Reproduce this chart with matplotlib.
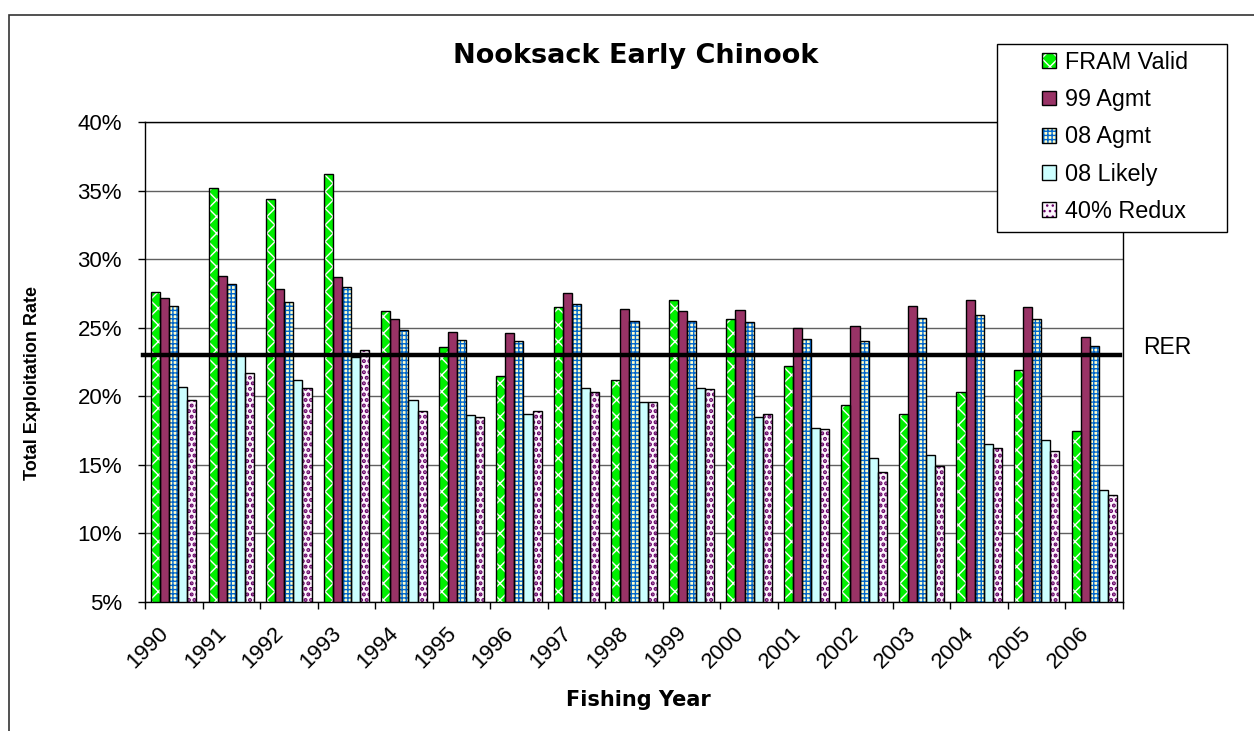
import matplotlib
matplotlib.use("Agg")
import matplotlib.pyplot as plt
import numpy as np
from matplotlib.patches import Rectangle
from matplotlib.transforms import ScaledTranslation

years = ["1990", "1991", "1992", "1993", "1994", "1995", "1996", "1997", "1998",
         "1999", "2000", "2001", "2002", "2003", "2004", "2005", "2006"]
fram_valid = [27.6, 35.2, 34.4, 36.2, 26.2, 23.6, 21.5, 26.5, 21.2, 27.0, 25.6, 22.2, 19.4, 18.7, 20.3, 21.9, 17.5]
agmt_99 = [27.2, 28.8, 27.8, 28.7, 25.6, 24.7, 24.6, 27.5, 26.4, 26.2, 26.3, 25.0, 25.1, 26.6, 27.0, 26.5, 24.3]
agmt_08 = [26.6, 28.2, 26.9, 28.0, 24.8, 24.1, 24.0, 26.7, 25.5, 25.5, 25.4, 24.2, 24.0, 25.7, 25.9, 25.6, 23.7]
likely_08 = [20.7, 23.1, 21.2, 22.9, 19.7, 18.6, 18.7, 20.6, 19.6, 20.6, 18.5, 17.7, 15.5, 15.7, 16.5, 16.8, 13.2]
redux_40 = [19.7, 21.7, 20.6, 23.4, 18.9, 18.5, 18.9, 20.3, 19.6, 20.5, 18.7, 17.6, 14.5, 14.9, 16.2, 16.0, 12.8]
rer = 23.0

series_names = ["FRAM Valid", "99 Agmt", "08 Agmt", "08 Likely", "40% Redux"]
series_values = [fram_valid, agmt_99, agmt_08, likely_08, redux_40]

# face colour, hatch colour, hatch pattern, hatch width
styles = [
    ("#00f000", "white", "xx", 1.0),
    ("#993366", "#993366", None, 1.0),
    ("#ffffcc", "#0066cc", "++++", 1.0),
    ("#ccffff", "#ccffff", None, 1.0),
    ("#fdf5fd", "#660066", "...", 2.0),
]

plt.rcParams["font.family"] = ["Liberation Sans", "DejaVu Sans"]

W, H = 1254, 731
fig = plt.figure(figsize=(W / 100, H / 100), dpi=100)
ax = fig.add_axes([145 / W, (H - 602) / H, (1123 - 145) / W, (602 - 122) / H])

x = np.arange(len(years))
bar_w = 0.158
handles = []
for i, (name, vals, (fc, hc, hatch, hlw)) in enumerate(zip(series_names, series_values, styles)):
    pos = x + (i - 2) * bar_w
    with plt.rc_context({"hatch.linewidth": hlw}):
        ax.bar(pos, vals, bar_w, color=fc, edgecolor=hc, hatch=hatch, linewidth=0, zorder=2)
        h1 = plt.Rectangle((0, 0), 1, 1, facecolor=fc, edgecolor=hc, hatch=hatch, linewidth=0)
    ax.bar(pos, vals, bar_w, fill=False, edgecolor="black", linewidth=1.0, zorder=3)
    h2 = plt.Rectangle((0, 0), 1, 1, fill=False, edgecolor="black", linewidth=1.0)
    handles.append((h1, h2))

ax.axhline(rer, xmin=-0.002, xmax=0.997, color="black", linewidth=3.2, zorder=4, clip_on=False)

ax.set_xlim(-0.5, len(years) - 0.5)
ax.set_ylim(5, 40)
ax.set_yticks(np.arange(5, 41, 5))
ax.set_yticklabels([f"{v}%" for v in range(5, 41, 5)], fontsize=16)
ax.yaxis.grid(True, color="#606060", linewidth=1.0)
ax.set_axisbelow(True)
ax.tick_params(axis="y", length=5, width=1, pad=11.5)

ax.set_xticks(x)
ax.set_xticklabels(years, fontsize=16, rotation=45, ha="right", va="center",
                   rotation_mode="anchor")
ax.set_xticks(np.arange(-0.5, len(years), 1), minor=True)
ax.tick_params(axis="x", which="major", length=0, pad=20)
ax.tick_params(axis="x", which="minor", length=5, width=1)
for lab in ax.get_xticklabels():
    lab.set_transform(lab.get_transform() + ScaledTranslation(-6 / 72, 0, fig.dpi_scale_trans))

for sp in ax.spines.values():
    sp.set_color("black")
    sp.set_linewidth(1.0)

fig.text(636 / W, 1 - 63 / H, "Nooksack Early Chinook", ha="center", va="baseline",
         fontsize=19.5, fontweight="bold", family="DejaVu Sans")
fig.text(638 / W, 1 - 700 / H, "Fishing Year", ha="center", va="center",
         fontsize=15, fontweight="bold", family="DejaVu Sans")
fig.text(33 / W, 1 - 383 / H, "Total Exploitation Rate", ha="center", va="center",
         rotation=90, fontsize=13, fontweight="bold")
fig.text(1143 / W, 1 - 347 / H, "RER", ha="left", va="center", fontsize=16.5)

# outer chart border (cut off at right and bottom)
fig.add_artist(Rectangle((9 / W, -0.1), 1.2, 1.1 - 15 / H, transform=fig.transFigure,
                         fill=False, edgecolor="#333333", linewidth=1.2))

# legend box
fig.add_artist(Rectangle((997 / W, 1 - 232 / H), 230 / W, 188 / H, transform=fig.transFigure,
                         facecolor="white", edgecolor="black", linewidth=1.0, zorder=4))
fig.legend(handles, series_names, loc="upper left", bbox_to_anchor=(1042 / W, 1 - 51 / H),
           frameon=False, fontsize=16.8, borderpad=0, borderaxespad=0,
           handlelength=0.6, handleheight=0.6, handletextpad=0.38, labelspacing=0.61)

fig.savefig("out.png", dpi=100)
